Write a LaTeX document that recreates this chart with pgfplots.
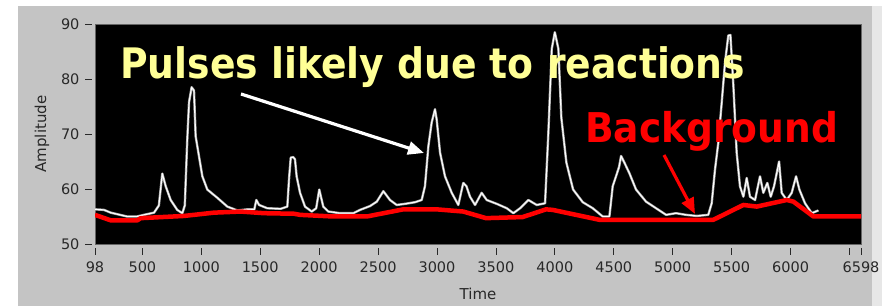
\documentclass[border=0pt]{standalone}
\usepackage{pgfplots}
\pgfplotsset{compat=1.18}
\usepackage{fontspec}
\setmainfont{DejaVu Sans}
\usetikzlibrary{arrows.meta}
\definecolor{panel}{RGB}{196,196,196}
\definecolor{ticktxt}{RGB}{40,40,40}
\definecolor{pulseyellow}{RGB}{255,255,150}
\begin{document}
\begin{tikzpicture}
\useasboundingbox (0pt,0pt) rectangle (882pt,307pt);
\fill[white] (0pt,0pt) rectangle (882pt,307pt);
\fill[panel] (18pt,1pt) rectangle (882pt,301pt);
\fill[white!60!panel] (872pt,1pt) rectangle (882pt,301pt);
\begin{axis}[
  at={(95pt,63pt)}, anchor=south west,
  scale only axis, width=766pt, height=220pt,
  xmin=98, xmax=6598, ymin=50, ymax=90,
  axis background/.style={fill=black},
  axis line style={draw=gray!80!black, line width=0.8pt},
  xtick={98,500,1000,1500,2000,2500,3000,3500,4000,4500,5000,5500,6000,6500,6598},
  xticklabels={98,500,1000,1500,2000,2500,3000,3500,4000,4500,5000,5500,6000,,6598},
  ytick={50,60,70,80,90},
  tick align=outside, major tick length=7pt,
  x tick style={draw=ticktxt, line width=0.8pt, yshift=-4pt},
  y tick style={draw=ticktxt, line width=0.8pt, xshift=-3pt},
  xtick pos=bottom, ytick pos=left,
  /pgf/number format/assume math mode=true,
  ticklabel style={font=\fontsize{14.5}{17}\selectfont, text=ticktxt},
  xticklabel style={yshift=-7pt},
  yticklabel style={xshift=-5pt},
  clip=true,
]
\addplot[gray!70, line width=2.4pt, line join=round] coordinates {
(98,56.3)(174,56.2)(231,55.7)(370,55.0)(455,55.0)(514,55.3)(599,55.7)(640,57)(669,62.8)(698,60.5)(740,58.0)(796,56.2)(839,55.6)(860,57)(881,69)(896,75.8)(918,78.5)(938,77.9)(952,69.6)(980,66)(1009,62.3)(1051,59.9)(1136,58.4)(1221,56.8)(1306,56.1)(1390,56.3)(1450,56.3)(1467,58.0)(1490,57.1)(1560,56.5)(1674,56.4)(1730,56.8)(1745,62)(1759,65.7)(1780,65.8)(1795,65.4)(1809,62.3)(1838,59.3)(1880,56.8)(1937,55.9)(1975,56.5)(2001,59.9)(2035,56.8)(2078,55.9)(2177,55.6)(2290,55.6)(2347,56.2)(2432,56.9)(2489,57.7)(2545,59.6)(2601,58.0)(2658,57.1)(2729,57.3)(2814,57.6)(2870,58.0)(2898,60.5)(2927,67.8)(2955,72.1)(2983,74.5)(2997,72.7)(3026,66.6)(3068,62.3)(3125,59.3)(3181,57.1)(3223,61.1)(3250,60.5)(3280,58.6)(3323,57.1)(3379,59.3)(3422,58.0)(3507,57.3)(3592,56.5)(3648,55.6)(3705,56.5)(3775,58.0)(3846,57.1)(3917,57.4)(3945,70.2)(3974,85.5)(4000,88.5)(4030,85.5)(4055,73.0)(4098,64.8)(4155,59.9)(4237,57.6)(4322,56.5)(4406,55.0)(4463,55.0)(4491,60.5)(4519,62.3)(4545,64)(4562,66.0)(4590,64.8)(4632,62.9)(4689,59.9)(4774,57.7)(4859,56.5)(4944,55.3)(5028,55.6)(5113,55.3)(5204,55.1)(5302,55.3)(5331,57.4)(5359,63.5)(5387,68.4)(5416,75.7)(5444,83.0)(5472,87.9)(5490,88.0)(5515,78.8)(5543,66.6)(5571,60.5)(5600,58.6)(5628,62.0)(5656,58.6)(5699,58.0)(5741,62.3)(5769,59.3)(5803,61.1)(5832,58.6)(5860,60.5)(5883,62.9)(5903,65.0)(5925,59.3)(5968,58.0)(6010,59.3)(6047,62.3)(6075,59.9)(6123,57.4)(6180,55.6)(6236,56.1)
};
\addplot[white, line width=1.1pt, line join=round] coordinates {
(98,56.3)(174,56.2)(231,55.7)(370,55.0)(455,55.0)(514,55.3)(599,55.7)(640,57)(669,62.8)(698,60.5)(740,58.0)(796,56.2)(839,55.6)(860,57)(881,69)(896,75.8)(918,78.5)(938,77.9)(952,69.6)(980,66)(1009,62.3)(1051,59.9)(1136,58.4)(1221,56.8)(1306,56.1)(1390,56.3)(1450,56.3)(1467,58.0)(1490,57.1)(1560,56.5)(1674,56.4)(1730,56.8)(1745,62)(1759,65.7)(1780,65.8)(1795,65.4)(1809,62.3)(1838,59.3)(1880,56.8)(1937,55.9)(1975,56.5)(2001,59.9)(2035,56.8)(2078,55.9)(2177,55.6)(2290,55.6)(2347,56.2)(2432,56.9)(2489,57.7)(2545,59.6)(2601,58.0)(2658,57.1)(2729,57.3)(2814,57.6)(2870,58.0)(2898,60.5)(2927,67.8)(2955,72.1)(2983,74.5)(2997,72.7)(3026,66.6)(3068,62.3)(3125,59.3)(3181,57.1)(3223,61.1)(3250,60.5)(3280,58.6)(3323,57.1)(3379,59.3)(3422,58.0)(3507,57.3)(3592,56.5)(3648,55.6)(3705,56.5)(3775,58.0)(3846,57.1)(3917,57.4)(3945,70.2)(3974,85.5)(4000,88.5)(4030,85.5)(4055,73.0)(4098,64.8)(4155,59.9)(4237,57.6)(4322,56.5)(4406,55.0)(4463,55.0)(4491,60.5)(4519,62.3)(4545,64)(4562,66.0)(4590,64.8)(4632,62.9)(4689,59.9)(4774,57.7)(4859,56.5)(4944,55.3)(5028,55.6)(5113,55.3)(5204,55.1)(5302,55.3)(5331,57.4)(5359,63.5)(5387,68.4)(5416,75.7)(5444,83.0)(5472,87.9)(5490,88.0)(5515,78.8)(5543,66.6)(5571,60.5)(5600,58.6)(5628,62.0)(5656,58.6)(5699,58.0)(5741,62.3)(5769,59.3)(5803,61.1)(5832,58.6)(5860,60.5)(5883,62.9)(5903,65.0)(5925,59.3)(5968,58.0)(6010,59.3)(6047,62.3)(6075,59.9)(6123,57.4)(6180,55.6)(6236,56.1)
};
\addplot[red, line width=4.5pt, line join=round] coordinates {
(98,55.3)(231,54.3)(457,54.3)(486,54.7)(853,55.1)(1108,55.7)(1334,55.9)(1532,55.6)(1787,55.5)(1838,55.3)(2120,55.0)(2404,55.0)(2714,56.3)(2998,56.3)(3223,55.9)(3416,54.7)(3727,54.9)(3925,56.3)(3982,56.2)(4378,54.4)(5113,54.4)(5345,54.4)(5600,57.1)(5713,56.8)(5968,58.0)(6025,57.7)(6194,55.0)(6598,55.0)
};
\end{axis}
\node[rotate=90, text=ticktxt, font=\fontsize{15}{18}\selectfont] at (42pt,173pt) {Amplitude};
\node[text=ticktxt, font=\fontsize{15}{18}\selectfont] at (478pt,13pt) {Time};
\node[anchor=base west, inner sep=0pt, text=pulseyellow, font=\fontsize{42}{48}\selectfont\bfseries] at (120pt,228pt) {\resizebox{625pt}{\height}{Pulses likely due to reactions}};
\node[anchor=base west, inner sep=0pt, text=red, font=\fontsize{41}{48}\selectfont\bfseries] at (585pt,164pt) {\resizebox{253pt}{\height}{Background}};
\draw[white, line width=3.2pt, -{Triangle[length=16pt,width=13pt]}] (241pt,213pt) -- (424pt,154pt);
\draw[red, line width=3.2pt, -{Triangle[length=16pt,width=13pt]}] (664pt,152pt) -- (695pt,93pt);
\end{tikzpicture}
\end{document}
